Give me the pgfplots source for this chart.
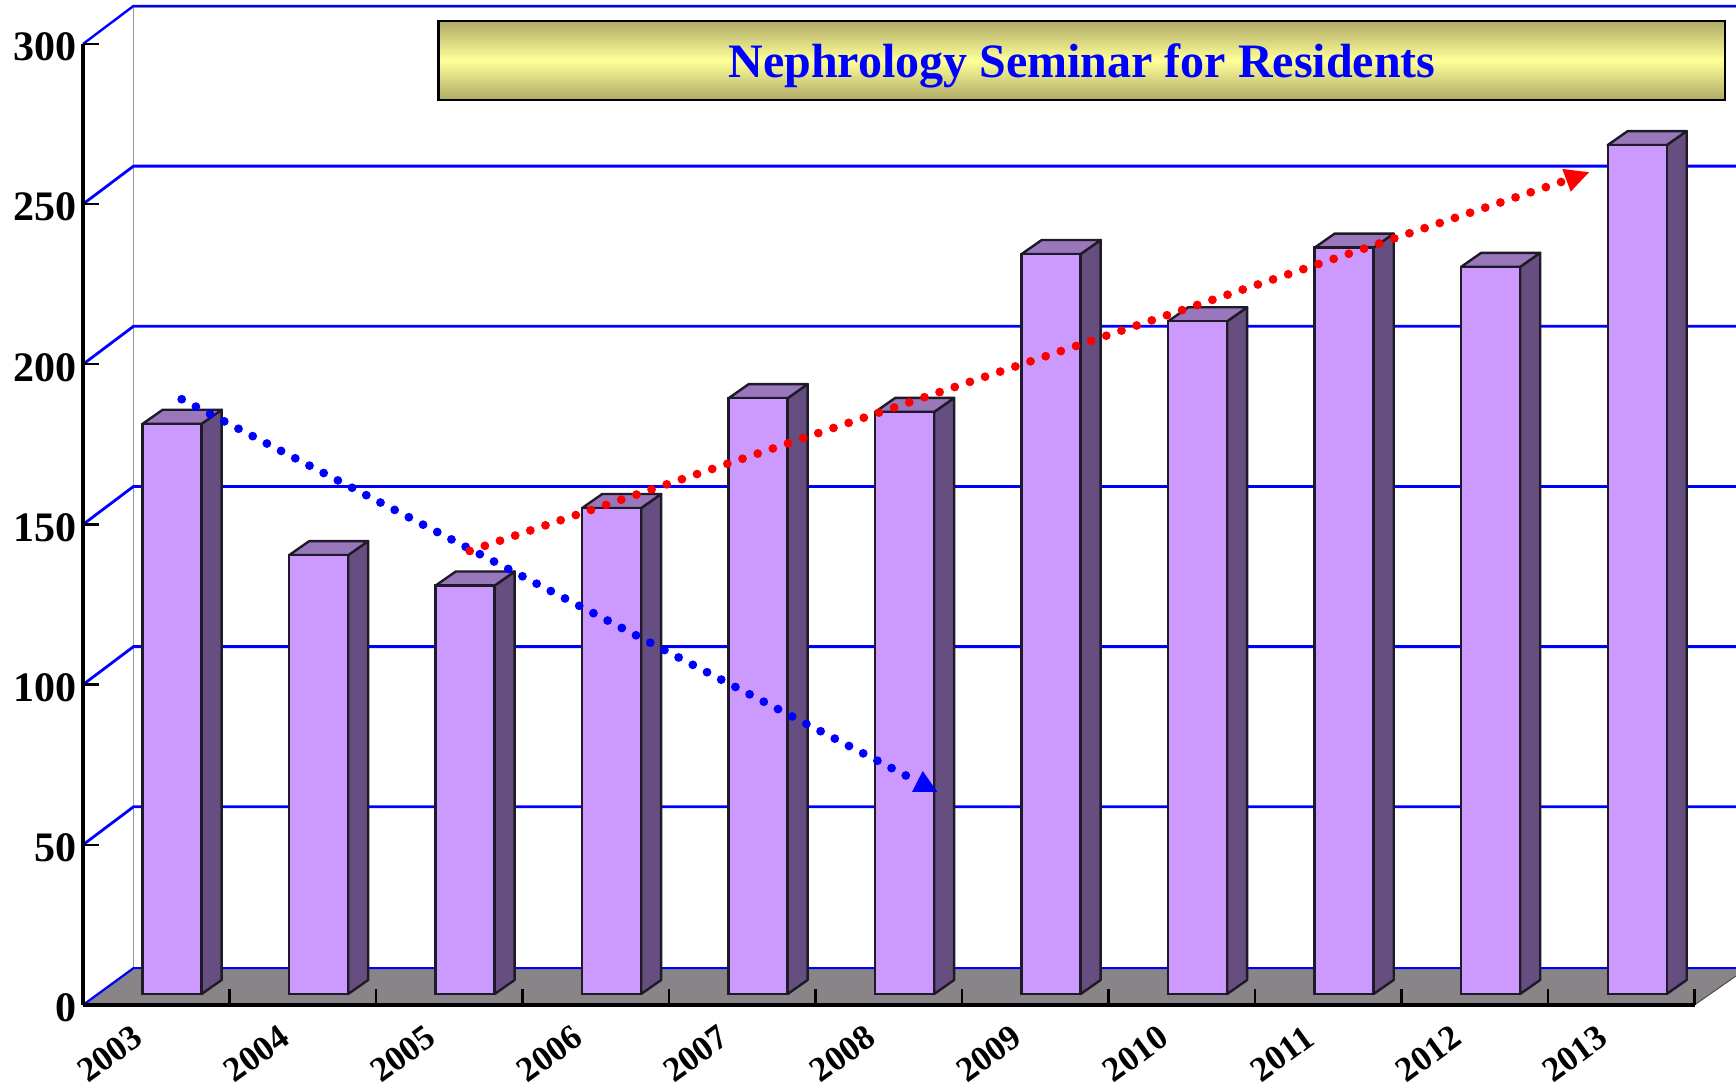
\documentclass[border=0pt]{standalone}
\usepackage{pgfplots}
\pgfplotsset{compat=1.18}
\usepackage{fontspec}
\setmainfont{Liberation Serif}
\definecolor{barfront}{HTML}{CC99FF}
\definecolor{barside}{HTML}{664F80}
\definecolor{bartop}{HTML}{9977BB}
\definecolor{barline}{HTML}{1E1A28}
\definecolor{ground}{HTML}{888488}
\definecolor{boxedge}{HTML}{AEAA66}
\definecolor{boxmid}{HTML}{FFFF99}
% side and top faces of one bar: #1 = position, #2 = value
\newcommand{\barfaces}[2]{%
  \pgfmathsetmacro{\xa}{#1+0.4075}%
  \pgfmathsetmacro{\xb}{#1+0.8102}%
  \pgfmathsetmacro{\xc}{#1+0.5440}%
  \pgfmathsetmacro{\xd}{#1+0.9467}%
  \pgfmathsetmacro{\ya}{#2+3.434}%
  \pgfmathsetmacro{\yb}{#2+7.804}%
  \addplot[draw=barline,line width=1.2pt,fill=barside,line join=round] coordinates {(\xb,3.434) (\xd,7.804) (\xd,\yb) (\xb,\ya)} --cycle;
  \addplot[draw=barline,line width=1.2pt,fill=bartop,line join=round] coordinates {(\xa,\ya) (\xb,\ya) (\xd,\yb) (\xc,\yb)} --cycle;
}
\begin{document}
\begin{tikzpicture}
\begin{axis}[
  x=73.25pt, y=1.60165pt,
  xmin=0, xmax=11, ymin=0, ymax=300,
  axis lines=left,
  axis line style={-, line width=1.6pt, black},
  clip=false,
  axis on top,
  tick align=inside,
  major tick length=8pt,
  tick style={black, line width=1.2pt},
  xtick={1,2,3,4,5,6,7,8,9,10,11},
  xticklabels={2003,2004,2005,2006,2007,2008,2009,2010,2011,2012,2013},
  ytick={0,50,100,150,200,250,300},
  /pgf/number format/assume math mode=true,
  yticklabel style={font=\bfseries\fontsize{21}{22}\selectfont, yshift=-1.5pt, xshift=0.5pt},
  xticklabel style={font=\bfseries\fontsize{17.5}{19}\selectfont, anchor=center, xshift=-59.75pt, yshift=-24.5pt, rotate=36},
]
% back wall
\addplot[draw=black!40,line width=0.8pt] coordinates {(0.3447,11.5) (0.3447,311.6) (11.2833,311.6)};
% grid lines
\addplot[blue,line width=1.4pt] coordinates {(0,50) (0.3447,61.86) (11.2833,61.86)};
\addplot[blue,line width=1.4pt] coordinates {(0,100) (0.3447,111.86) (11.2833,111.86)};
\addplot[blue,line width=1.4pt] coordinates {(0,150) (0.3447,161.86) (11.2833,161.86)};
\addplot[blue,line width=1.4pt] coordinates {(0,200) (0.3447,211.86) (11.2833,211.86)};
\addplot[blue,line width=1.4pt] coordinates {(0,250) (0.3447,261.86) (11.2833,261.86)};
\addplot[blue,line width=1.2pt] coordinates {(0,300) (0.3447,311.86) (11.2833,311.86)};
% floor
\addplot[draw=none,fill=ground] coordinates {(0,0) (11,0) (11.2833,9.05) (11.2833,11.5) (0.3447,11.5)} --cycle;
\addplot[draw=black!70,line width=0.5pt] coordinates {(11,0) (11.2833,9.05)};
\addplot[blue,line width=1.1pt] coordinates {(0,0) (0.3447,11.5) (11.2833,11.5)};
% bars
\barfaces{0}{178}
\barfaces{1}{137}
\barfaces{2}{127.5}
\barfaces{3}{151.7}
\barfaces{4}{186}
\barfaces{5}{181.7}
\barfaces{6}{231}
\barfaces{7}{210}
\barfaces{8}{233}
\barfaces{9}{227}
\barfaces{10}{265}
\addplot[ybar, bar width=29.5pt, bar shift=0pt, yshift=5.5pt, draw=barline, line width=1.2pt, fill=barfront] table {
x y
0.6088 178
1.6088 137
2.6088 127.5
3.6088 151.7
4.6088 186
5.6088 181.7
6.6088 231
7.6088 210
8.6088 233
9.6088 227
10.6088 265
};
% title box
\shade[top color=boxedge, bottom color=boxedge, middle color=boxmid] (axis cs:2.4266,282.52) rectangle (axis cs:11.2082,307.27);
\draw[black,line width=1.1pt] (axis cs:2.4266,282.52) rectangle (axis cs:11.2082,307.27);
\node[font=\bfseries\fontsize{24}{28}\selectfont, text=blue] at (axis cs:6.8191,293.15) {Nephrology Seminar for Residents};
% trend arrows
\addplot[blue,line width=4.4pt,line cap=round,dash pattern=on 0pt off 8pt] coordinates {(0.6737,189.09) (5.6225,71.49)};
\addplot[draw=none,fill=blue] coordinates {(5.7317,73.05) (5.6587,66.49) (5.8314,66.49)} --cycle;
\addplot[red,line width=4.4pt,line cap=round,dash pattern=on 0pt off 8pt] coordinates {(2.6396,141.73) (10.0956,257.01)};
\addplot[draw=none,fill=red] coordinates {(10.0976,260.98) (10.2799,259.95) (10.1549,253.89)} --cycle;
\coordinate (bbA) at (axis cs:-0.56655,-26.85);
\coordinate (bbB) at (axis cs:11.2833,313.73);
\end{axis}
\pgfresetboundingbox
\path[use as bounding box] (bbA) rectangle (bbB);
\end{tikzpicture}
\end{document}
